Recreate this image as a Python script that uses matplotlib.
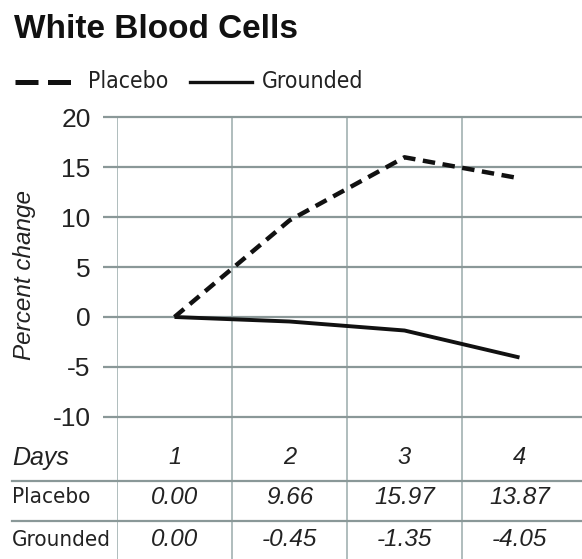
import matplotlib
matplotlib.use('Agg')
import matplotlib.pyplot as plt
from matplotlib.lines import Line2D
from matplotlib.transforms import blended_transform_factory

# data
days = [1, 2, 3, 4]
placebo = [0.00, 9.66, 15.97, 13.87]
grounded = [0.00, -0.45, -1.35, -4.05]
y_ticks = [-10, -5, 0, 5, 10, 15, 20]
row_labels = ['Placebo', 'Grounded']
placebo_txt = ['0.00', '9.66', '15.97', '13.87']
grounded_txt = ['0.00', '-0.45', '-1.35', '-4.05']

W, H = 582, 559
SANS = ['Liberation Sans', 'DejaVu Sans']
GRID = '#8a9898'
VGRID = '#a9b7b7'
TXT = '#222222'

plt.rcParams['font.family'] = SANS


def fx(px):
    return px / W


def fy(py):
    return 1 - py / H


fig = plt.figure(figsize=(W / 100, H / 100), dpi=100)

# one axes from the top of the grid down to the bottom of the table
top_px, bot_px = 112, 559
left_px, right_px = 117, 582
ax = fig.add_axes([fx(left_px), fy(bot_px), fx(right_px - left_px), (bot_px - top_px) / H])
ax.set_xlim(0.5, 0.5 + (right_px - left_px) / 115)
ymax = 20.5
ax.set_ylim(ymax - (bot_px - top_px) / 10, ymax)
for s in ax.spines.values():
    s.set_visible(False)

ax.set_yticks(y_ticks)
ax.set_yticklabels([str(v) for v in y_ticks], fontsize=19, color=TXT)
ax.tick_params(axis='y', length=10, width=1.6, color=GRID, pad=9)
ax.set_xticks([])
ax.yaxis.grid(True, color=GRID, linewidth=1.6)
ax.set_axisbelow(True)

# column dividers run through the plot and the table
ax.vlines([0.5, 1.5, 2.5, 3.5], ax.get_ylim()[0], 20, colors=VGRID, linewidth=1.3, zorder=0)

ax.plot(days, placebo, color='#111111', linewidth=3.2, linestyle=(0, (2.8, 1.7)),
        dash_capstyle='butt', zorder=3)
ax.plot(days, grounded, color='#111111', linewidth=2.8, solid_capstyle='butt', zorder=3)

fig.text(fx(25), fy(275), 'Percent change', rotation=90, style='italic', fontsize=17.5,
         color=TXT, ha='center', va='center')

# title and legend
fig.text(fx(14), fy(29), 'White Blood Cells', fontsize=24, fontweight='bold',
         color='#111111', ha='left', va='center')
fig.add_artist(Line2D([fx(15), fx(78)], [fy(82), fy(82)], color='#111111', linewidth=3.6,
                      linestyle=(0, (4.6, 1.9)), dash_capstyle='butt'))
fig.text(fx(88), fy(82), 'Placebo', family='DejaVu Sans', fontstretch='condensed', fontsize=16.5,
         color=TXT, ha='left', va='center')
fig.add_artist(Line2D([fx(190), fx(252)], [fy(82), fy(82)], color='#111111', linewidth=2.4))
fig.text(fx(262), fy(82), 'Grounded', family='DejaVu Sans', fontstretch='condensed', fontsize=16.5,
         color=TXT, ha='left', va='center')

# table under the plot
tr = blended_transform_factory(ax.transData, fig.transFigure)
row_y = [458, 497, 540]
fig.text(fx(12), fy(row_y[0]), 'Days', style='italic', fontsize=18, color=TXT, ha='left', va='center')
for d in days:
    ax.text(d, fy(row_y[0]), str(d), transform=tr, style='italic', fontsize=17, color=TXT,
            ha='center', va='center')
for lab, vals, yy in zip(row_labels, [placebo_txt, grounded_txt], row_y[1:]):
    fig.text(fx(12), fy(yy), lab, family='DejaVu Sans', fontstretch='condensed', fontsize=16,
             color=TXT, ha='left', va='center')
    for d, v in zip(days, vals):
        ax.text(d, fy(yy), v, transform=tr, style='italic', fontsize=17.5, color=TXT,
                ha='center', va='center')
for yy in [481, 521]:
    fig.add_artist(Line2D([fx(12), fx(582)], [fy(yy), fy(yy)], color=GRID, linewidth=1.6))

fig.savefig('out.png', dpi=100, facecolor='white')
